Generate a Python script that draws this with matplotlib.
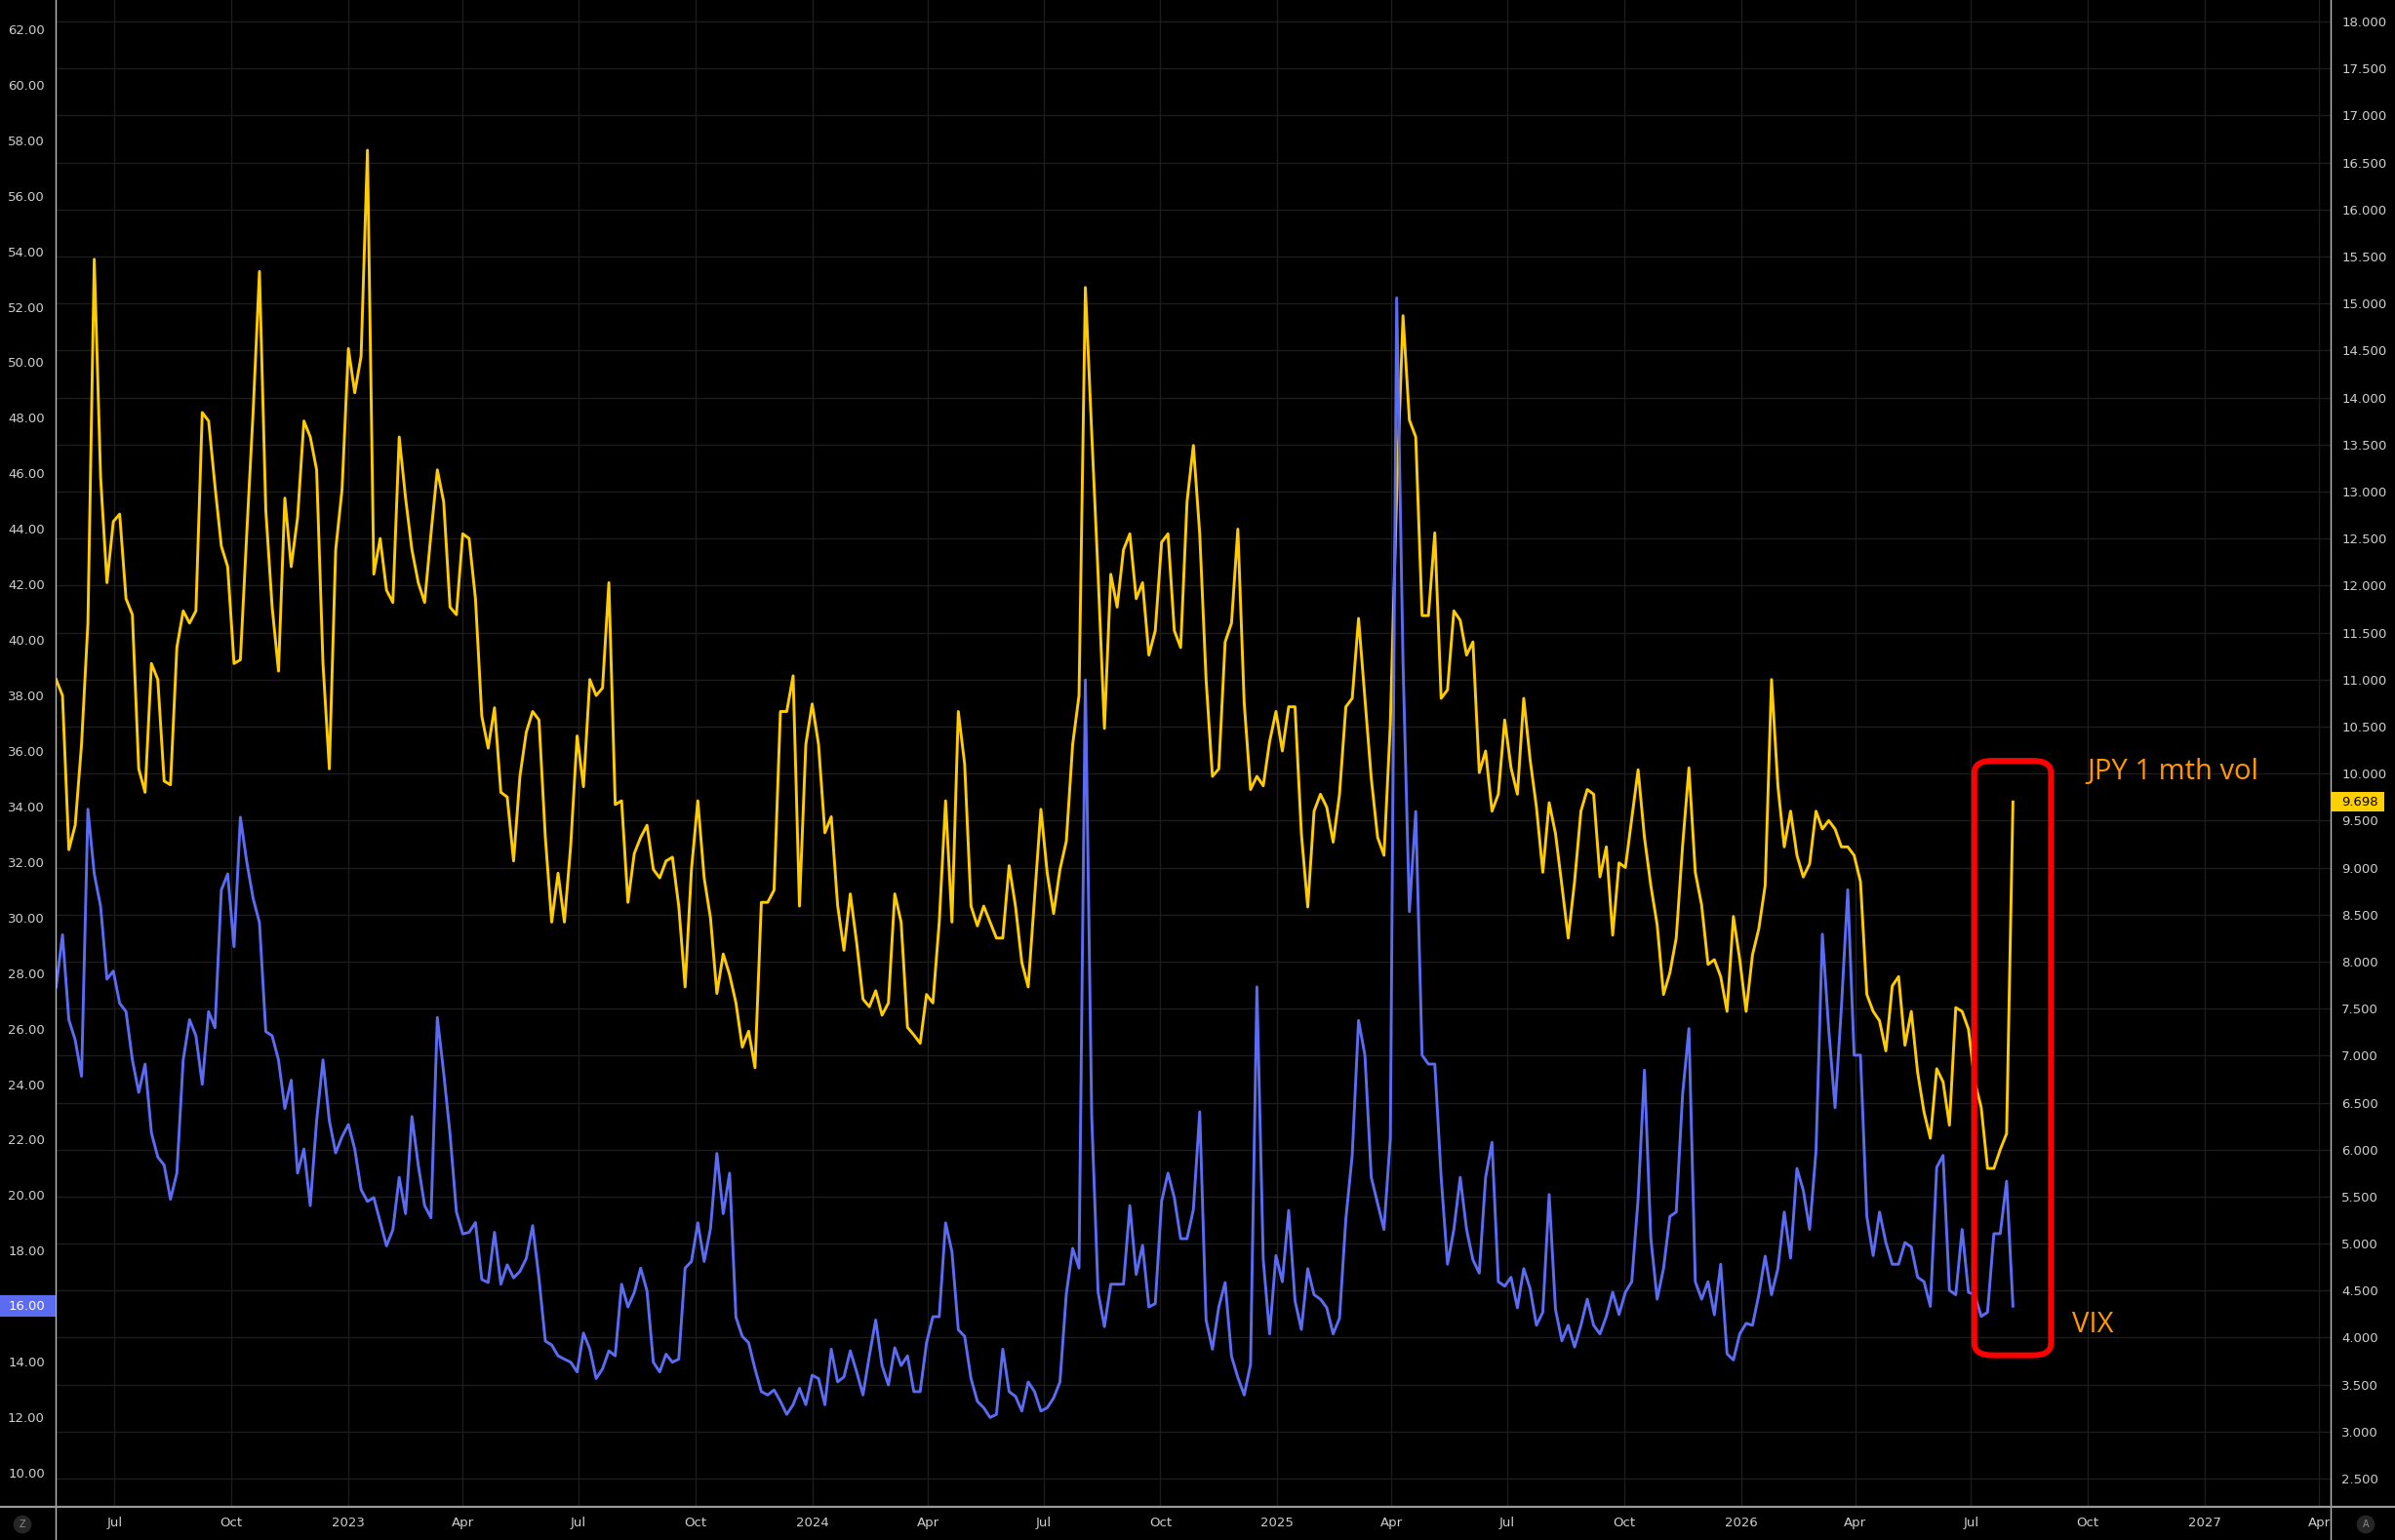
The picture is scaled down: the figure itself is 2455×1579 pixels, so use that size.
import numpy as np
import pandas as pd
import matplotlib
matplotlib.use("Agg")
import matplotlib.pyplot as plt
from matplotlib.patches import FancyBboxPatch, Rectangle
from matplotlib.lines import Line2D
import matplotlib.transforms as mtransforms

# ---------------- data ----------------
start_date = "2022-05-16"
sample_step = "5D"

jpy_vol = [
    11.00, 10.83, 9.19, 9.45, 10.31, 11.60, 15.47, 13.15, 12.03, 12.68,
    12.76, 11.86, 11.69, 10.05, 9.80, 11.17, 11.00, 9.92, 9.88, 11.34,
    11.73, 11.60, 11.73, 13.84, 13.75, 13.06, 12.42, 12.20, 11.17, 11.21,
    12.55, 13.84, 15.34, 12.80, 11.77, 11.09, 12.93, 12.20, 12.72, 13.75,
    13.58, 13.23, 11.17, 10.05, 12.38, 13.02, 14.52, 14.05, 14.44, 16.63,
    12.12, 12.50, 11.95, 11.82, 13.58, 12.93, 12.38, 12.03, 11.82, 12.55,
    13.23, 12.89, 11.77, 11.69, 12.55, 12.50, 11.86, 10.61, 10.27, 10.70,
    9.80, 9.75, 9.07, 9.97, 10.44, 10.66, 10.57, 9.32, 8.42, 8.94,
    8.42, 9.24, 10.40, 9.86, 11.00, 10.83, 10.91, 12.03, 9.67, 9.71,
    8.63, 9.15, 9.32, 9.45, 8.98, 8.89, 9.07, 9.11, 8.59, 7.73,
    8.98, 9.71, 8.89, 8.46, 7.66, 8.08, 7.86, 7.56, 7.09, 7.26,
    6.87, 8.63, 8.63, 8.76, 10.66, 10.66, 11.04, 8.59, 10.31, 10.74,
    10.31, 9.37, 9.54, 8.60, 8.12, 8.72, 8.20, 7.60, 7.52, 7.69,
    7.43, 7.56, 8.72, 8.42, 7.30, 7.22, 7.13, 7.65, 7.56, 8.42,
    9.71, 8.42, 10.66, 10.10, 8.59, 8.38, 8.59, 8.42, 8.25, 8.25,
    9.02, 8.59, 7.99, 7.73, 8.68, 9.62, 8.94, 8.51, 8.98, 9.28,
    10.31, 10.83, 15.17, 13.62, 12.12, 10.48, 12.12, 11.77, 12.38, 12.55,
    11.86, 12.03, 11.26, 11.52, 12.46, 12.55, 11.52, 11.34, 12.89, 13.49,
    12.55, 11.00, 9.97, 10.05, 11.40, 11.60, 12.60, 10.75, 9.83, 9.97,
    9.87, 10.34, 10.66, 10.24, 10.71, 10.71, 9.36, 8.58, 9.60, 9.78,
    9.64, 9.27, 9.78, 10.71, 10.80, 11.65, 10.80, 9.95, 9.32, 9.13,
    10.52, 12.98, 14.87, 13.76, 13.58, 11.68, 11.68, 12.56, 10.80, 10.89,
    11.73, 11.63, 11.26, 11.40, 10.01, 10.24, 9.60, 9.78, 10.57, 10.06,
    9.78, 10.80, 10.15, 9.64, 8.95, 9.69, 9.36, 8.81, 8.25, 8.85,
    9.60, 9.83, 9.78, 8.90, 9.22, 8.28, 9.05, 9.00, 9.52, 10.04,
    9.32, 8.81, 8.39, 7.65, 7.88, 8.25, 9.23, 10.06, 8.95, 8.60,
    7.97, 8.02, 7.84, 7.47, 8.48, 8.02, 7.47, 8.07, 8.35, 8.81,
    11.00, 9.87, 9.22, 9.60, 9.13, 8.90, 9.04, 9.60, 9.41, 9.50,
    9.41, 9.22, 9.22, 9.13, 8.85, 7.65, 7.47, 7.37, 7.05, 7.74,
    7.84, 7.11, 7.47, 6.82, 6.40, 6.12, 6.86, 6.72, 6.26, 7.51,
    7.47, 7.28, 6.72, 6.45, 5.80, 5.80, 6.00, 6.17, 9.698,
]

vix = [
    27.50, 29.38, 26.32, 25.59, 24.28, 33.90, 31.57, 30.40, 27.78, 28.07,
    26.91, 26.61, 24.87, 23.70, 24.72, 22.24, 21.37, 21.08, 19.85, 20.79,
    24.87, 26.32, 25.74, 23.99, 26.61, 26.03, 30.99, 31.57, 28.95, 33.61,
    32.01, 30.69, 29.82, 25.89, 25.74, 24.87, 23.12, 24.14, 20.79, 21.66,
    19.62, 22.68, 24.87, 22.68, 21.52, 22.10, 22.54, 21.66, 20.20, 19.77,
    19.91, 19.04, 18.17, 18.75, 20.64, 19.33, 22.83, 21.08, 19.62, 19.18,
    26.40, 24.40, 22.20, 19.40, 18.60, 18.66, 19.01, 16.96, 16.85, 18.66,
    16.79, 17.49, 17.02, 17.25, 17.72, 18.90, 17.00, 14.74, 14.60, 14.21,
    14.09, 13.98, 13.63, 15.03, 14.45, 13.39, 13.74, 14.39, 14.21, 16.79,
    15.97, 16.49, 17.37, 16.55, 13.98, 13.63, 14.27, 13.98, 14.09, 17.37,
    17.61, 19.00, 17.61, 18.80, 21.50, 19.33, 20.79, 15.60, 14.91, 14.68,
    13.74, 12.92, 12.80, 12.98, 12.57, 12.10, 12.45, 13.04, 12.45, 13.51,
    13.39, 12.45, 14.45, 13.27, 13.45, 14.39, 13.63, 12.80, 14.21, 15.50,
    13.86, 13.16, 14.50, 13.86, 14.21, 12.92, 12.92, 14.68, 15.62, 15.62,
    19.00, 17.96, 15.15, 14.91, 13.39, 12.57, 12.34, 11.99, 12.10, 14.45,
    12.92, 12.75, 12.22, 13.27, 12.92, 12.22, 12.34, 12.69, 13.27, 16.44,
    18.08, 17.37, 38.56, 22.83, 16.50, 15.26, 16.79, 16.79, 16.79, 19.62,
    17.14, 18.19, 15.97, 16.09, 19.77, 20.79, 19.91, 18.43, 18.43, 19.48,
    23.00, 15.50, 14.45, 15.97, 16.85, 14.20, 13.43, 12.80, 13.90, 27.50,
    17.67, 15.00, 17.82, 16.88, 19.45, 16.19, 15.16, 17.35, 16.41, 16.25,
    15.94, 15.00, 15.56, 19.14, 21.43, 26.29, 25.04, 20.64, 19.70, 18.76,
    22.06, 52.32, 39.15, 30.21, 33.82, 25.04, 24.72, 24.72, 20.64, 17.51,
    18.76, 20.64, 18.76, 17.67, 17.19, 20.64, 21.90, 16.88, 16.72, 17.04,
    15.94, 17.35, 16.63, 15.31, 15.78, 20.02, 15.88, 14.75, 15.31, 14.53,
    15.31, 16.25, 15.31, 15.00, 15.63, 16.50, 15.70, 16.50, 16.88, 19.86,
    24.50, 18.45, 16.25, 17.35, 19.23, 19.39, 23.62, 26.00, 16.88, 16.25,
    16.88, 15.69, 17.51, 14.28, 14.06, 15.00, 15.38, 15.31, 16.41, 17.80,
    16.41, 17.35, 19.39, 17.73, 20.96, 20.17, 18.76, 21.58, 29.40, 25.98,
    23.15, 26.76, 31.00, 25.04, 25.04, 19.23, 17.82, 19.39, 18.29, 17.51,
    17.51, 18.29, 18.13, 17.04, 16.88, 15.99, 21.00, 21.43, 16.57, 16.41,
    18.76, 16.50, 16.41, 15.63, 15.78, 18.61, 18.61, 20.50, 16.00,
]

x_tick_dates = ["2022-07-01", "2022-10-01", "2023-01-01", "2023-04-01", "2023-07-01",
                "2023-10-01", "2024-01-01", "2024-04-01", "2024-07-01", "2024-10-01",
                "2025-01-01", "2025-04-01", "2025-07-01", "2025-10-01", "2026-01-01",
                "2026-04-01", "2026-07-01", "2026-10-01", "2027-01-01", "2027-04-01"]
x_tick_labels = ["Jul", "Oct", "2023", "Apr", "Jul", "Oct", "2024", "Apr", "Jul", "Oct",
                 "2025", "Apr", "Jul", "Oct", "2026", "Apr", "Jul", "Oct", "2027", "Apr"]
left_ticks = list(range(10, 63, 2))
left_tick_labels = [f"{v:.2f}" for v in left_ticks]
right_ticks = [2.5 + 0.5 * k for k in range(32)]
right_tick_labels = [f"{v:.3f}" for v in right_ticks]

jpy_label = "JPY 1 mth vol"
vix_label = "VIX"
last_jpy_text = "9.698"
last_vix_text = "16.00"

# ---------------- styling ----------------
BG = "#000000"
GRID = "#1c1c1c"
TXT = "#cfcfcf"
YELLOW = "#ffcc00"
BLUE = "#5b6cf2"
ORANGE = "#ff9800"

W, H = 2455, 1579
L, R, T, B = 57, 2389, 0, 1545
fig = plt.figure(figsize=(W / 100, H / 100), dpi=100, facecolor=BG)
rect = [L / W, (H - B) / H, (R - L) / W, (B - T) / H]

ax2 = fig.add_axes(rect)                # right scale (JPY vol), bottom layer
ax = fig.add_axes(rect, sharex=ax2)     # left scale (VIX), top layer
ax2.set_facecolor(BG)
ax.patch.set_visible(False)

dates = pd.date_range(start_date, periods=len(vix), freq=sample_step)

ax2.plot(dates, jpy_vol, color=YELLOW, lw=2.1, solid_joinstyle="round", zorder=3)
ax.plot(dates, vix, color=BLUE, lw=2.1, solid_joinstyle="round", zorder=3)

ax.set_xlim(pd.Timestamp("2022-05-15 14:00"), pd.Timestamp("2027-04-10"))
ax.set_ylim(8.77, 63.05)
ax2.set_ylim(2.20, 18.228)

for a in (ax, ax2):
    for s in a.spines.values():
        s.set_visible(False)

# right axis
ax2.yaxis.tick_right()
ax2.set_yticks(right_ticks)
ax2.set_yticklabels(right_tick_labels)
ax2.tick_params(axis="y", colors=TXT, labelsize=9.5, length=0, pad=8)
ax2.set_xticks(pd.to_datetime(x_tick_dates))
ax2.tick_params(axis="x", length=0, labelbottom=False)
ax2.grid(True, axis="both", color=GRID, lw=1.0)
ax2.set_axisbelow(True)

# left axis
ax.yaxis.tick_left()
ax.set_yticks(left_ticks)
ax.set_yticklabels(left_tick_labels)
ax.tick_params(axis="y", colors=TXT, labelsize=9.5, length=0, pad=8)
ax.set_xticks(pd.to_datetime(x_tick_dates))
ax.set_xticklabels(x_tick_labels)
ax.tick_params(axis="x", colors=TXT, labelsize=9.5, length=0, pad=7)
ax.grid(False)

# frame lines
fig.add_artist(Line2D([L / W, L / W], [0, 1], transform=fig.transFigure, color="#bdbdbd", lw=1.0))
fig.add_artist(Line2D([R / W, R / W], [0, 1], transform=fig.transFigure, color="#bdbdbd", lw=1.0))
fig.add_artist(Line2D([0, 1], [(H - B) / H] * 2, transform=fig.transFigure, color="#9a9a9a", lw=1.6))

# last-value labels
blend_r = mtransforms.blended_transform_factory(fig.transFigure, ax2.transData)
fig.add_artist(Rectangle((2390 / W, jpy_vol[-1] - 10 / 96.4), 54 / W, 20 / 96.4,
                         transform=blend_r, facecolor="#ffd000", edgecolor="none", zorder=5))
fig.text(2400 / W, jpy_vol[-1], last_jpy_text, transform=blend_r, ha="left", va="center",
         color="#000000", fontsize=9.5, zorder=6)

blend_l = mtransforms.blended_transform_factory(fig.transFigure, ax.transData)
fig.add_artist(Rectangle((0, vix[-1] - 11 / 28.46), 57 / W, 22 / 28.46,
                         transform=blend_l, facecolor=BLUE, edgecolor="none", zorder=5))
fig.text(46 / W, vix[-1], last_vix_text, transform=blend_l, ha="right", va="center",
         color="#ffffff", fontsize=9.5, zorder=6)

# red highlight box and annotations
box = FancyBboxPatch((0.8434, 0.1006), 0.8771 - 0.8434, 0.4951 - 0.1006,
                     boxstyle="round,pad=0,rounding_size=0.008", transform=ax.transAxes,
                     fill=False, edgecolor="#ff0000", lw=4.3, zorder=10, clip_on=False)
ax.add_patch(box)
ax.text(0.8928, 0.4874, jpy_label, transform=ax.transAxes, color=ORANGE, fontsize=21,
        family="Open Sans", ha="left", va="center", zorder=11)
ax.text(0.8864, 0.1210, vix_label, transform=ax.transAxes, color=ORANGE, fontsize=21,
        family="Open Sans", ha="left", va="center", zorder=11)

# corner buttons
fig.text(23 / W, 1 - 1563 / H, "Z", ha="center", va="center", fontsize=7, color="#8a8a8a",
         bbox=dict(boxstyle="circle,pad=0.45", fc="#262626", ec="none"))
fig.text(2425 / W, 1 - 1563 / H, "A", ha="center", va="center", fontsize=7, color="#8a8a8a",
         bbox=dict(boxstyle="circle,pad=0.45", fc="#262626", ec="none"))

fig.savefig("out.png", dpi=100, facecolor=BG)
